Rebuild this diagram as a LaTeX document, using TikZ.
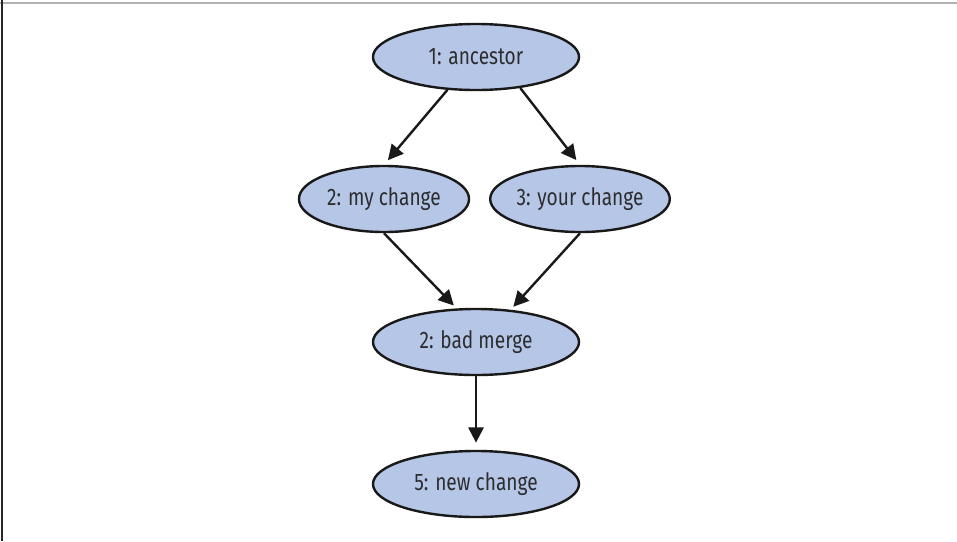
\documentclass[tikz,border=0pt]{standalone}
\usepackage{fontspec}
\setmainfont{Fira Sans}[FakeStretch=0.8]
\usetikzlibrary{
  shapes.geometric,
  arrows.meta
}
\definecolor{revfill}{RGB}{181,198,231}
\definecolor{revtext}{RGB}{45,45,48}

\begin{document}
\begin{tikzpicture}[
  x=0.025cm, y=-0.025cm,
  rev/.style={ellipse, draw=black!90, line width=0.06cm, fill=revfill,
    text=revtext, font=\fontsize{17}{20}\selectfont,
    minimum height=1.65cm, inner sep=0pt},
  edge/.style={line width=0.06cm, black!90, shorten >=0.15cm,
    -{Triangle[length=0.38cm,width=0.38cm]}},
]
\useasboundingbox (0,0) rectangle (957,541);
\draw[gray!60, line width=0.05cm] (0,3) -- (957,3);
\draw[black!85, line width=0.05cm] (2,0) -- (2,541);
\node[rev, minimum width=5.15cm] (anc) at (476,57) {1: ancestor};
\node[rev, minimum width=4.25cm] (mine) at (384,199) {2: my change};
\node[rev, minimum width=4.3cm] (yours) at (580,199) {3: your change};
\node[rev, minimum width=5.15cm] (merge) at (476,342) {2: bad merge};
\node[rev, minimum width=5.15cm] (newc) at (476,484) {5: new change};
\draw[edge] (anc.229) -- (mine.north);
\draw[edge] (anc.325) -- (yours.north);
\draw[edge, shorten >=0.1cm] (mine.south) -- (merge.120);
\draw[edge, shorten >=0.1cm] (yours.south) -- (merge.43);
\draw[edge, shorten >=0.18cm] (merge.south) -- (newc.north);
\end{tikzpicture}
\end{document}
